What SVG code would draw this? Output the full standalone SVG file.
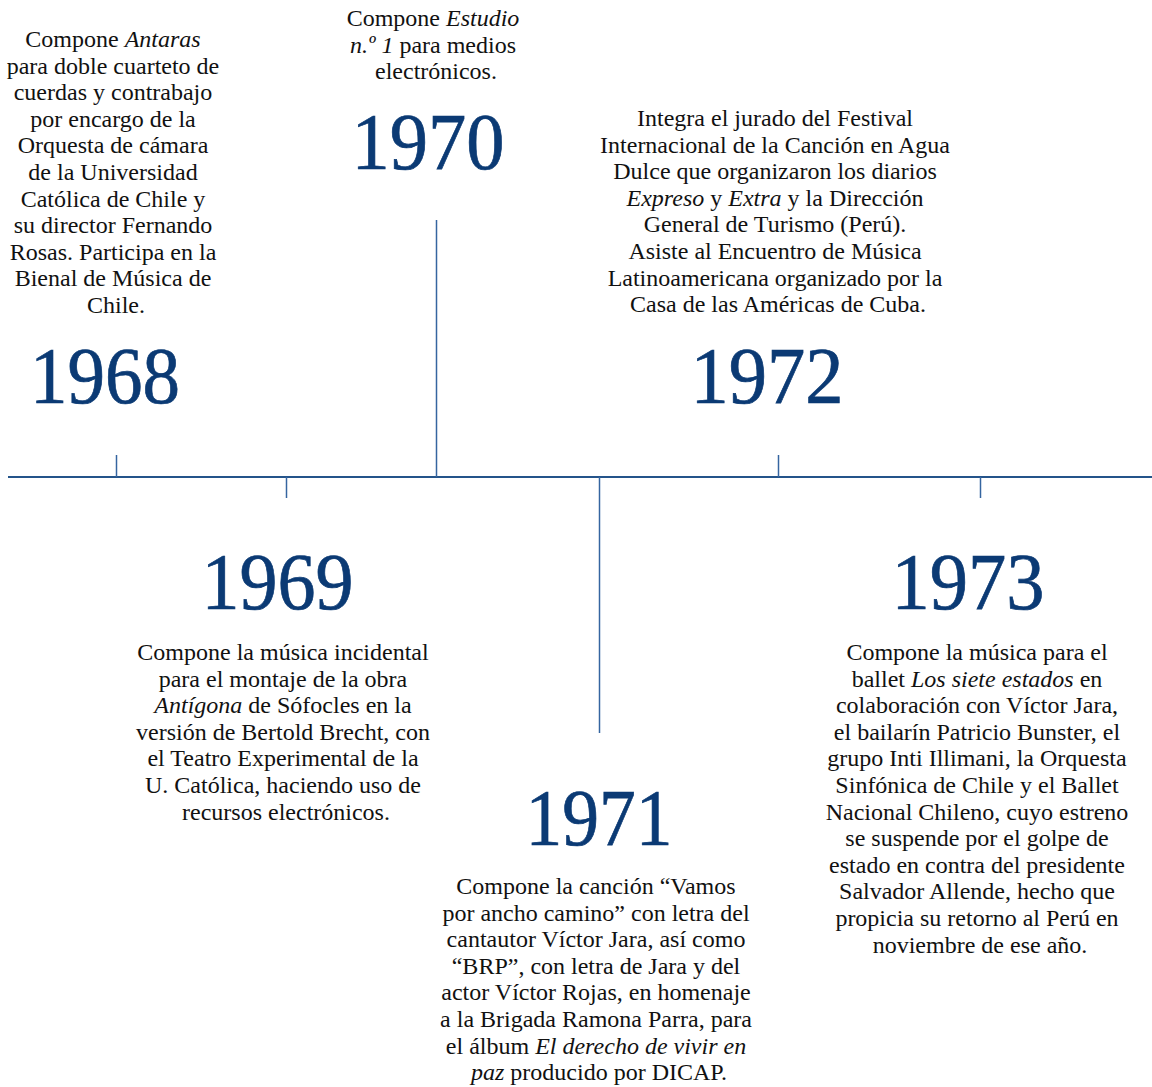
<svg xmlns="http://www.w3.org/2000/svg" width="1152" height="1087" viewBox="0 0 1152 1087">
<style>
.body{font-family:"Liberation Serif","Times New Roman",serif;font-size:24px;fill:#111;text-anchor:middle}
.yr{font-family:"Liberation Serif","Times New Roman",serif;font-size:80px;fill:#0b3a74;stroke:#0b3a74;stroke-width:0.7;text-anchor:middle}
.i{font-style:italic}
.tick{stroke:#3565a0;stroke-width:1.5;fill:none}
.axis{stroke:#24548a;stroke-width:2;fill:none}
</style>
<rect width="1152" height="1087" fill="#ffffff"/>
<g id="connectors">
<line class="axis" x1="8" y1="477" x2="1152" y2="477"/>
<line class="tick" x1="116.5" y1="455" x2="116.5" y2="477"/>
<line class="tick" x1="286.5" y1="477" x2="286.5" y2="498"/>
<line class="tick" x1="436.5" y1="220" x2="436.5" y2="477"/>
<line class="tick" x1="599.5" y1="477" x2="599.5" y2="733"/>
<line class="tick" x1="778.5" y1="455" x2="778.5" y2="477"/>
<line class="tick" x1="980.5" y1="477" x2="980.5" y2="498"/>
</g>
<g id="node-1968">
<text class="yr" x="105" y="403" textLength="150" lengthAdjust="spacingAndGlyphs">1968</text>
<text class="body" x="116" y="47">
<tspan x="116" dy="0">Compone <tspan class="i">Antaras</tspan></tspan>
<tspan x="116" dy="26.6">para doble cuarteto de</tspan>
<tspan x="116" dy="26.6">cuerdas y contrabajo</tspan>
<tspan x="116" dy="26.6">por encargo de la</tspan>
<tspan x="116" dy="26.6">Orquesta de cámara</tspan>
<tspan x="116" dy="26.6">de la Universidad</tspan>
<tspan x="116" dy="26.6">Católica de Chile y</tspan>
<tspan x="116" dy="26.6">su director Fernando</tspan>
<tspan x="116" dy="26.6">Rosas. Participa en la</tspan>
<tspan x="116" dy="26.6">Bienal de Música de</tspan>
<tspan x="116" dy="26.6">Chile.</tspan>
</text>
</g>
<g id="node-1970">
<text class="yr" x="428" y="169" textLength="153" lengthAdjust="spacingAndGlyphs">1970</text>
<text class="body" x="436" y="26">
<tspan x="436" dy="0">Compone <tspan class="i">Estudio</tspan></tspan>
<tspan x="436" dy="26.6"><tspan class="i">n.º 1</tspan> para medios</tspan>
<tspan x="436" dy="26.6">electrónicos.</tspan>
</text>
</g>
<g id="node-1972">
<text class="yr" x="767" y="403" textLength="153" lengthAdjust="spacingAndGlyphs">1972</text>
<text class="body" x="778" y="126">
<tspan x="778" dy="0">Integra el jurado del Festival</tspan>
<tspan x="778" dy="26.6">Internacional de la Canción en Agua</tspan>
<tspan x="778" dy="26.6">Dulce que organizaron los diarios</tspan>
<tspan x="778" dy="26.6"><tspan class="i">Expreso</tspan> y <tspan class="i">Extra</tspan> y la Dirección</tspan>
<tspan x="778" dy="26.6">General de Turismo (Perú).</tspan>
<tspan x="778" dy="26.6">Asiste al Encuentro de Música</tspan>
<tspan x="778" dy="26.6">Latinoamericana organizado por la</tspan>
<tspan x="778" dy="26.6">Casa de las Américas de Cuba.</tspan>
</text>
</g>
<g id="node-1969">
<text class="yr" x="277.5" y="609" textLength="152" lengthAdjust="spacingAndGlyphs">1969</text>
<text class="body" x="286" y="660">
<tspan x="286" dy="0">Compone la música incidental</tspan>
<tspan x="286" dy="26.6">para el montaje de la obra</tspan>
<tspan x="286" dy="26.6"><tspan class="i">Antígona</tspan> de Sófocles en la</tspan>
<tspan x="286" dy="26.6">versión de Bertold Brecht, con</tspan>
<tspan x="286" dy="26.6">el Teatro Experimental de la</tspan>
<tspan x="286" dy="26.6">U. Católica, haciendo uso de</tspan>
<tspan x="286" dy="26.6">recursos electrónicos.</tspan>
</text>
</g>
<g id="node-1971">
<text class="yr" x="599" y="845" textLength="147" lengthAdjust="spacingAndGlyphs">1971</text>
<text class="body" x="599" y="894">
<tspan x="599" dy="0">Compone la canción “Vamos</tspan>
<tspan x="599" dy="26.6">por ancho camino” con letra del</tspan>
<tspan x="599" dy="26.6">cantautor Víctor Jara, así como</tspan>
<tspan x="599" dy="26.6">“BRP”, con letra de Jara y del</tspan>
<tspan x="599" dy="26.6">actor Víctor Rojas, en homenaje</tspan>
<tspan x="599" dy="26.6">a la Brigada Ramona Parra, para</tspan>
<tspan x="599" dy="26.6">el álbum <tspan class="i">El derecho de vivir en</tspan></tspan>
<tspan x="599" dy="26.6"><tspan class="i">paz</tspan> producido por DICAP.</tspan>
</text>
</g>
<g id="node-1973">
<text class="yr" x="968" y="609" textLength="153" lengthAdjust="spacingAndGlyphs">1973</text>
<text class="body" x="980" y="660">
<tspan x="980" dy="0">Compone la música para el</tspan>
<tspan x="980" dy="26.6">ballet <tspan class="i">Los siete estados</tspan> en</tspan>
<tspan x="980" dy="26.6">colaboración con Víctor Jara,</tspan>
<tspan x="980" dy="26.6">el bailarín Patricio Bunster, el</tspan>
<tspan x="980" dy="26.6">grupo Inti Illimani, la Orquesta</tspan>
<tspan x="980" dy="26.6">Sinfónica de Chile y el Ballet</tspan>
<tspan x="980" dy="26.6">Nacional Chileno, cuyo estreno</tspan>
<tspan x="980" dy="26.6">se suspende por el golpe de</tspan>
<tspan x="980" dy="26.6">estado en contra del presidente</tspan>
<tspan x="980" dy="26.6">Salvador Allende, hecho que</tspan>
<tspan x="980" dy="26.6">propicia su retorno al Perú en</tspan>
<tspan x="980" dy="26.6">noviembre de ese año.</tspan>
</text>
</g>
</svg>
